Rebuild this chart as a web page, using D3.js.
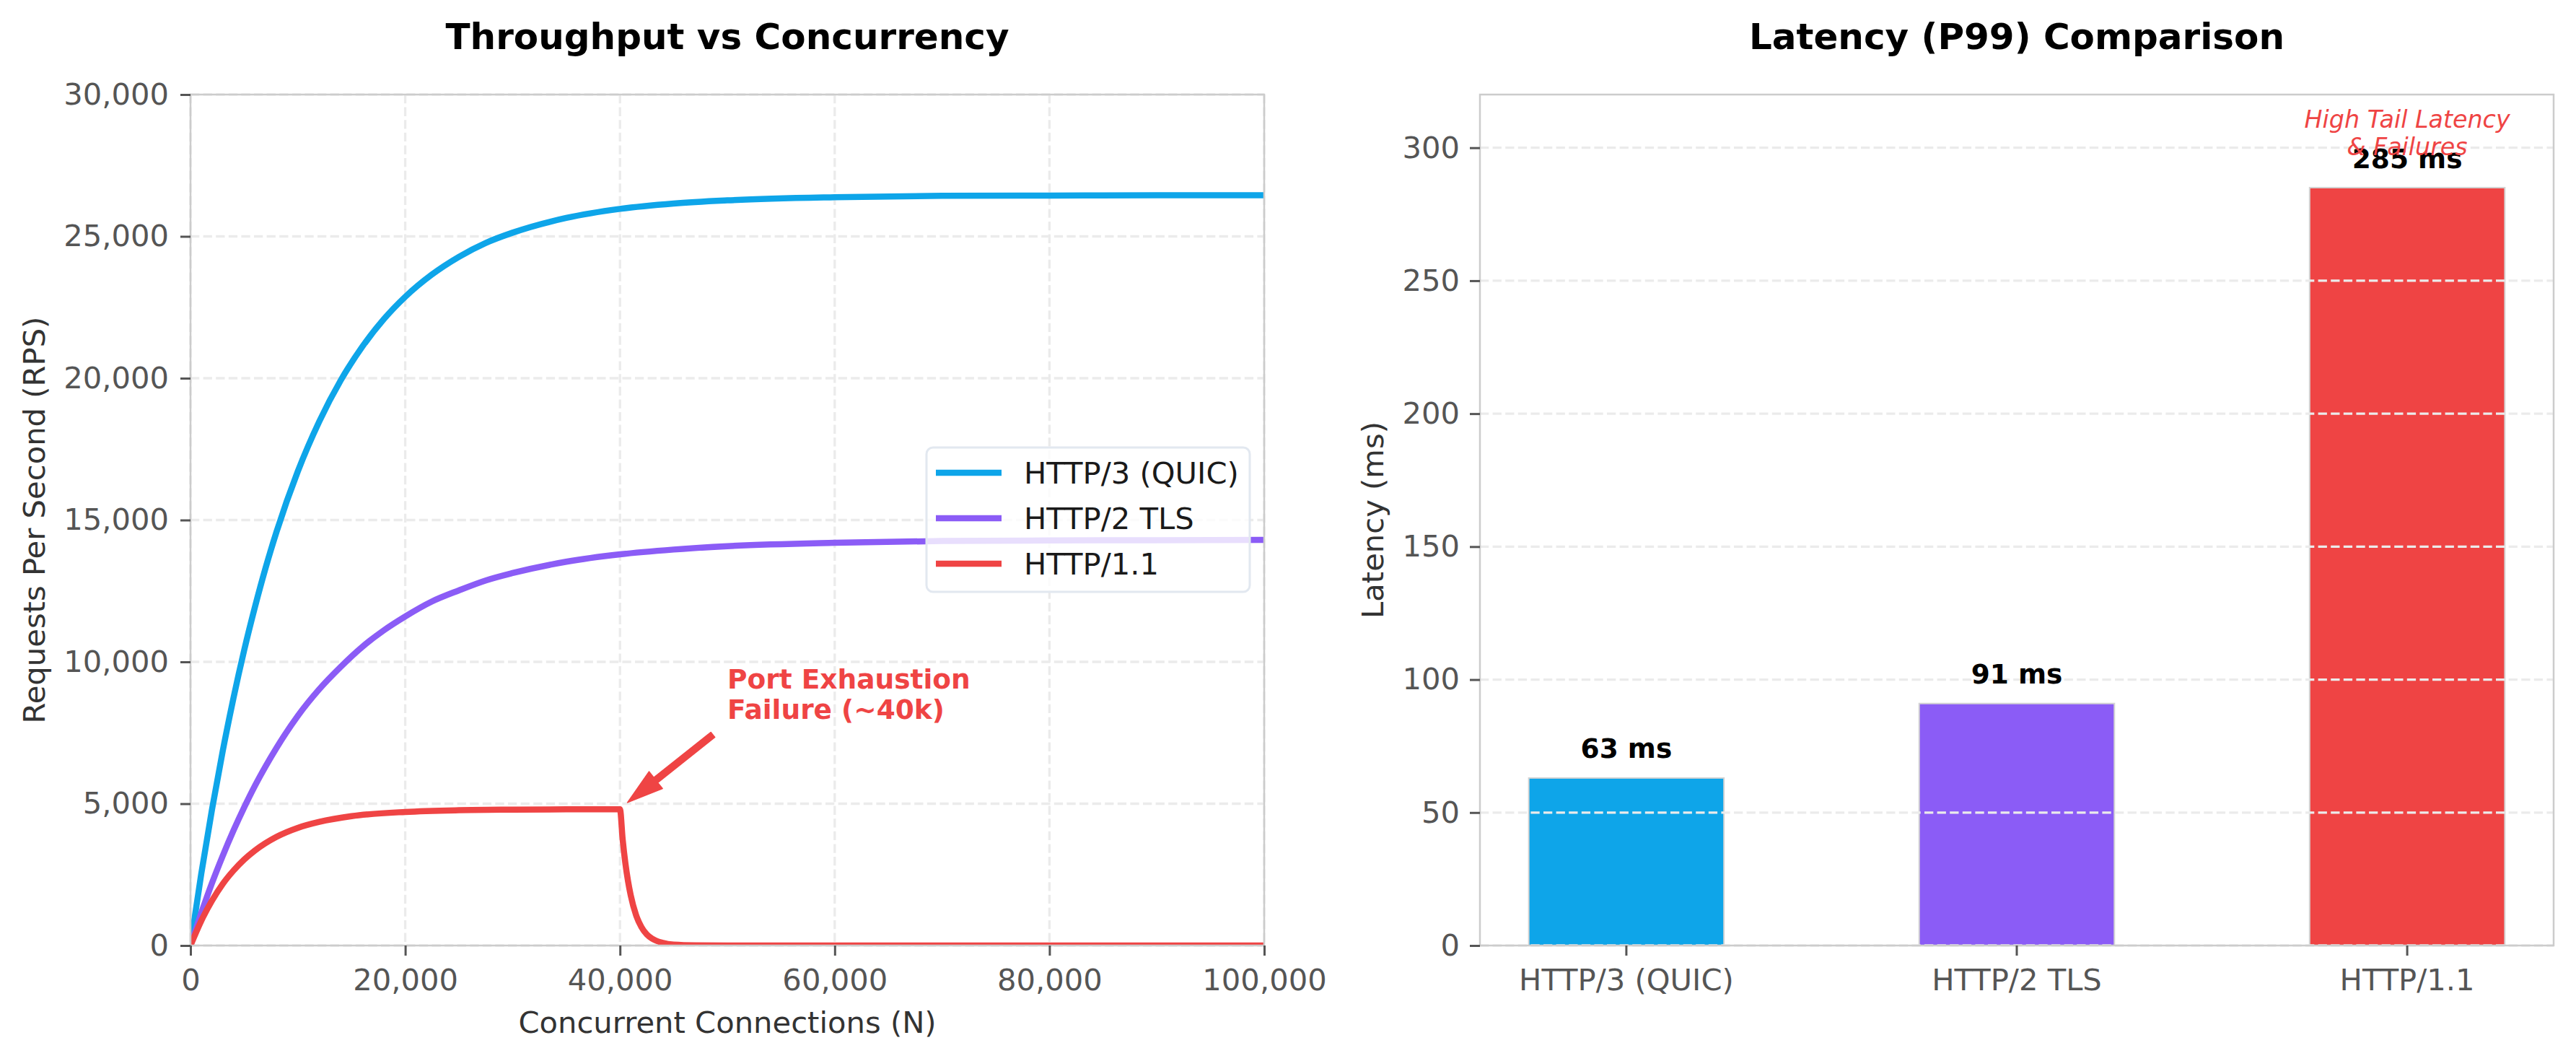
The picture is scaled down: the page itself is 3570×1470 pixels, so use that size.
<!DOCTYPE html>
<html>
<head>
<meta charset="utf-8">
<script src="https://cdn.jsdelivr.net/npm/d3@7"></script>
<style>
  body { margin: 0; background: #fff; }
  svg { display: block; font-family: "DejaVu Sans", sans-serif; }
</style>
</head>
<body>
<svg id="chart" width="3570" height="1470"></svg>
<script>
// throughput samples
const connections = [0, 1000, 2000, 3000, 4000, 5000, 6000, 7000, 8000, 10000, 12000, 14000, 16000, 18000,
  20000, 22500, 25000, 27500, 30000, 35000, 40000, 45000, 50000, 60000, 70000, 80000, 90000, 100000];
const http3Rps = [0, 2520, 4790, 6850, 8720, 10410, 11930, 13320, 14570, 16720, 18480, 19930, 21110, 22080,
  22870, 23660, 24280, 24770, 25130, 25650, 25970, 26160, 26270, 26380, 26430, 26440, 26450, 26450];
const http2Rps = [0, 1140, 2200, 3160, 4050, 4870, 5630, 6320, 6960, 8100, 9040, 9830, 10530, 11110,
  11600, 12130, 12520, 12870, 13130, 13530, 13790, 13960, 14080, 14200, 14260, 14280, 14290, 14300];
// HTTP/1.1 has its own samples, denser around the 40k collapse
const http1Connections = [0, 1000, 2000, 3000, 4000, 5000, 6000, 8000, 10000, 12000, 15000, 20000, 25000,
  30000, 35000, 39800, 40000, 40250, 40500, 40750, 41000, 41500, 42000, 42500, 43000, 44000, 45000, 47000,
  50000, 100000];
const http1Rps = [0, 870, 1580, 2170, 2640, 3030, 3350, 3830, 4150, 4360, 4560, 4710, 4770,
  4790, 4800, 4800, 4800, 3740, 2910, 2270, 1770, 1070, 650, 390, 240, 90, 30, 5,
  0, 0];

const seriesNames = ["HTTP/3 (QUIC)", "HTTP/2 TLS", "HTTP/1.1"];
const seriesColors = ["#0ea5e9", "#8b5cf6", "#ef4444"];

const rpsTicks = [0, 5000, 10000, 15000, 20000, 25000, 30000];
const connTicks = [0, 20000, 40000, 60000, 80000, 100000];

// latency bars
const protocols = ["HTTP/3 (QUIC)", "HTTP/2 TLS", "HTTP/1.1"];
const p99Latency = [63, 91, 285];
const latencyTicks = [0, 50, 100, 150, 200, 250, 300];

// annotations (data units)
const portNote = ["Port Exhaustion", "Failure (~40k)"];
const portNoteAt = [50000, 8000];
const portArrow = [[48650, 7430], [40700, 5040]];
const tailNote = ["High Tail Latency", "& Failures"];
const tailNoteValue = 295;

// plot boxes
const L = { x0: 264, x1: 1752, y0: 131, y1: 1310 };
const R = { x0: 2051, x1: 3539, y0: 131, y1: 1310 };

const svg = d3.select("#chart");
const FS = 41.7; // 10pt at 300 dpi
const gridColor = "#ebebeb";
const spineColor = "#cccccc";

function styleAxis(g) {
  g.attr("font-size", null).attr("font-family", null);
  g.select(".domain").remove();
  g.selectAll(".tick line").attr("stroke", "#555").attr("stroke-width", 3);
  g.selectAll(".tick text")
    .attr("fill", "#555")
    .style("font-size", FS + "px")
    .style("font-family", "DejaVu Sans");
}

function drawSpines(box) {
  svg.append("rect")
    .attr("x", box.x0).attr("y", box.y0)
    .attr("width", box.x1 - box.x0).attr("height", box.y1 - box.y0)
    .attr("fill", "none").attr("stroke", spineColor).attr("stroke-width", 2.5);
}

function title(text, cx) {
  svg.append("text")
    .attr("x", cx).attr("y", 68)
    .attr("text-anchor", "middle")
    .style("font-size", "50px").style("font-weight", "bold")
    .attr("fill", "#000")
    .text(text);
}

// ---------- left: throughput vs concurrency ----------
const x = d3.scaleLinear([0, 100000], [L.x0, L.x1]);
const y = d3.scaleLinear([0, 30000], [L.y1, L.y0]);

const gridL = svg.append("g");
gridL.selectAll(".vg").data(connTicks).join("line")
  .attr("x1", d => x(d)).attr("x2", d => x(d))
  .attr("y1", L.y0).attr("y2", L.y1);
gridL.selectAll(".hg").data(rpsTicks).join("line")
  .attr("x1", L.x0).attr("x2", L.x1)
  .attr("y1", d => y(d)).attr("y2", d => y(d));
gridL.selectAll("line")
  .attr("stroke", gridColor).attr("stroke-width", 3.3)
  .attr("stroke-dasharray", "12.3,5.3");

svg.append("clipPath").attr("id", "clipL")
  .append("rect")
  .attr("x", L.x0).attr("y", L.y0)
  .attr("width", L.x1 - L.x0).attr("height", L.y1 - L.y0);

const line = d3.line()
  .x(d => x(d[0]))
  .y(d => y(d[1]))
  .curve(d3.curveMonotoneX);

const series = [
  d3.zip(connections, http3Rps),
  d3.zip(connections, http2Rps),
  d3.zip(http1Connections, http1Rps)
];

const linesG = svg.append("g").attr("clip-path", "url(#clipL)");
series.forEach((pts, i) => {
  linesG.append("path")
    .datum(pts)
    .attr("d", line)
    .attr("fill", "none")
    .attr("stroke", seriesColors[i])
    .attr("stroke-width", 8.5)
    .attr("stroke-linejoin", "round");
});

drawSpines(L);

svg.append("g")
  .attr("transform", `translate(0,${L.y1})`)
  .call(d3.axisBottom(x).tickValues(connTicks).tickFormat(d3.format(",")).tickSize(14).tickPadding(18))
  .call(styleAxis);

svg.append("g")
  .attr("transform", `translate(${L.x0},0)`)
  .call(d3.axisLeft(y).tickValues(rpsTicks).tickFormat(d3.format(",")).tickSize(14).tickPadding(16))
  .call(styleAxis);

svg.append("text")
  .attr("x", (L.x0 + L.x1) / 2).attr("y", 1431)
  .attr("text-anchor", "middle")
  .style("font-size", FS + "px").attr("fill", "#333")
  .text("Concurrent Connections (N)");

svg.append("text")
  .attr("transform", `translate(62,${(L.y0 + L.y1) / 2}) rotate(-90)`)
  .attr("text-anchor", "middle")
  .style("font-size", FS + "px").attr("fill", "#333")
  .text("Requests Per Second (RPS)");

title("Throughput vs Concurrency", (L.x0 + L.x1) / 2);

// port exhaustion annotation
const tail = [x(portArrow[0][0]), y(portArrow[0][1])];
const tip = [x(portArrow[1][0]), y(portArrow[1][1])];
const dx = tip[0] - tail[0], dy = tip[1] - tail[1];
const len = Math.hypot(dx, dy);
const u = [dx / len, dy / len], n = [-u[1], u[0]];
const shaftW = 4.5, headW = 15, headL = 50;
const base = [tip[0] - u[0] * headL, tip[1] - u[1] * headL];
const arrowPts = [
  [tail[0] + n[0] * shaftW, tail[1] + n[1] * shaftW],
  [base[0] + n[0] * shaftW, base[1] + n[1] * shaftW],
  [base[0] + n[0] * headW, base[1] + n[1] * headW],
  tip,
  [base[0] - n[0] * headW, base[1] - n[1] * headW],
  [base[0] - n[0] * shaftW, base[1] - n[1] * shaftW],
  [tail[0] - n[0] * shaftW, tail[1] - n[1] * shaftW]
];
svg.append("polygon")
  .attr("points", arrowPts.map(p => p.join(",")).join(" "))
  .attr("fill", seriesColors[2])
  .attr("stroke", seriesColors[2]).attr("stroke-width", 1.5)
  .attr("stroke-linejoin", "round");

const note = svg.append("text")
  .attr("x", x(portNoteAt[0])).attr("y", y(portNoteAt[1]) - 42)
  .style("font-size", "37.5px").style("font-weight", "bold")
  .attr("fill", seriesColors[2]);
note.selectAll("tspan").data(portNote).join("tspan")
  .attr("x", x(portNoteAt[0]))
  .attr("dy", (d, i) => i ? 42 : 0)
  .text(d => d);

// legend
const leg = svg.append("g");
leg.append("rect")
  .attr("x", 1284).attr("y", 620).attr("width", 448).attr("height", 200)
  .attr("rx", 9)
  .attr("fill", "#fff").attr("fill-opacity", 0.8)
  .attr("stroke", "#e2e8f0").attr("stroke-width", 3);
seriesNames.forEach((name, i) => {
  const ry = 655 + i * 63;
  leg.append("line")
    .attr("x1", 1297).attr("x2", 1388).attr("y1", ry).attr("y2", ry)
    .attr("stroke", seriesColors[i]).attr("stroke-width", 8.5);
  leg.append("text")
    .attr("x", 1419).attr("y", ry + 15)
    .style("font-size", FS + "px").attr("fill", "#1a1a1a")
    .text(name);
});

// ---------- right: latency bars ----------
const xb = d3.scaleBand(protocols, [R.x0, R.x1]).paddingInner(0.5).paddingOuter(0.125);
const yb = d3.scaleLinear([0, 320], [R.y1, R.y0]);

svg.append("g").selectAll("rect").data(p99Latency).join("rect")
  .attr("x", (d, i) => xb(protocols[i]))
  .attr("y", d => yb(d))
  .attr("width", xb.bandwidth())
  .attr("height", d => yb(0) - yb(d))
  .attr("fill", (d, i) => seriesColors[i])
  .attr("stroke", "#d4d4d4").attr("stroke-width", 2);

// grid sits above the bars here
svg.append("g").selectAll("line").data(latencyTicks).join("line")
  .attr("x1", R.x0).attr("x2", R.x1)
  .attr("y1", d => yb(d)).attr("y2", d => yb(d))
  .attr("stroke", gridColor).attr("stroke-width", 3.3)
  .attr("stroke-dasharray", "12.3,5.3");

drawSpines(R);

svg.append("g")
  .attr("transform", `translate(0,${R.y1})`)
  .call(d3.axisBottom(xb).tickSize(14).tickPadding(18))
  .call(styleAxis);

svg.append("g")
  .attr("transform", `translate(${R.x0},0)`)
  .call(d3.axisLeft(yb).tickValues(latencyTicks).tickSize(14).tickPadding(14))
  .call(styleAxis);

svg.append("text")
  .attr("transform", `translate(1917,${(R.y0 + R.y1) / 2}) rotate(-90)`)
  .attr("text-anchor", "middle")
  .style("font-size", FS + "px").attr("fill", "#333")
  .text("Latency (ms)");

svg.append("g").selectAll("text").data(p99Latency).join("text")
  .attr("x", (d, i) => xb(protocols[i]) + xb.bandwidth() / 2)
  .attr("y", d => yb(d + 5) - 9)
  .attr("text-anchor", "middle")
  .style("font-size", "37.5px").style("font-weight", "bold")
  .attr("fill", "#000")
  .text(d => `${d} ms`);

const cx3 = xb(protocols[2]) + xb.bandwidth() / 2;
const tn = svg.append("text")
  .attr("x", cx3).attr("y", yb(tailNoteValue) - 8 - 38)
  .attr("text-anchor", "middle")
  .style("font-size", "33.3px").style("font-style", "italic")
  .attr("fill", seriesColors[2]);
tn.selectAll("tspan").data(tailNote).join("tspan")
  .attr("x", cx3)
  .attr("dy", (d, i) => i ? 38 : 0)
  .text(d => d);

title("Latency (P99) Comparison", (R.x0 + R.x1) / 2);
</script>
</body>
</html>
